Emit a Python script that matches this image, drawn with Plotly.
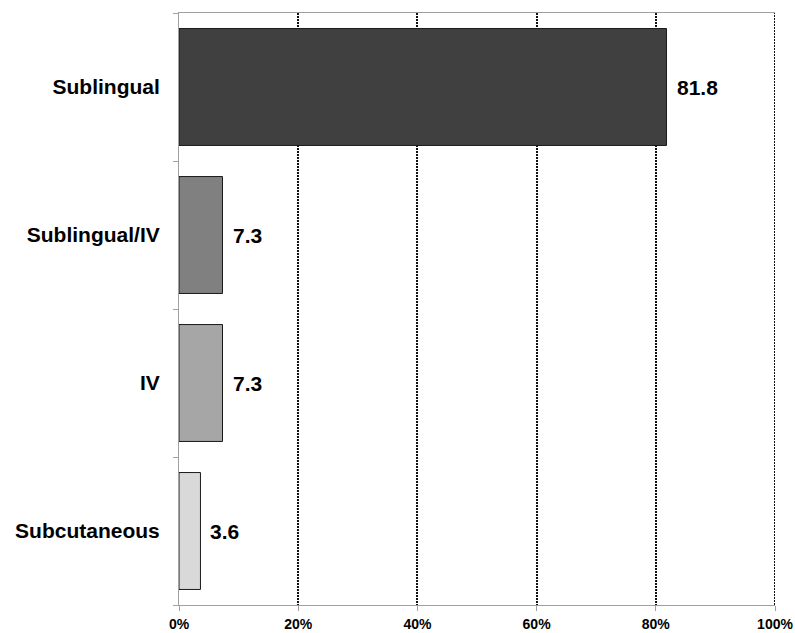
import plotly.graph_objects as go

routes = ["Sublingual", "Sublingual/IV", "IV", "Subcutaneous"]
shares = [81.8, 7.3, 7.3, 3.6]
bar_colors = ["#404040", "#808080", "#a6a6a6", "#d9d9d9"]
x_ticks = [0, 20, 40, 60, 80, 100]

FONT = "Liberation Sans, Arial, sans-serif"
GRID = dict(color="#111111", width=2, dash="2px,1px")

fig = go.Figure(
    go.Bar(
        x=shares,
        y=routes,
        orientation="h",
        marker=dict(color=bar_colors, line=dict(color="#1a1a1a", width=1)),
        hoverinfo="skip",
    )
)

# value labels to the right of each bar
for r, v in zip(routes, shares):
    fig.add_annotation(
        x=v, y=r, text=f"<b>{v}</b>", showarrow=False,
        xanchor="left", yanchor="middle", xshift=8,
        font=dict(family=FONT, size=21, color="black"),
    )

# dotted gridline on the right-hand edge (100%)
fig.add_shape(
    type="line", xref="x", yref="paper",
    x0=x_ticks[-1], x1=x_ticks[-1], y0=0, y1=1,
    line=GRID, layer="below",
)

fig.update_layout(
    width=795, height=633,
    margin=dict(l=179, r=20, t=13, b=28),
    paper_bgcolor="white", plot_bgcolor="white",
    bargap=0.21,
    showlegend=False,
    font=dict(family=FONT, color="black"),
)

fig.update_xaxes(
    range=[0, 100],
    tickvals=x_ticks,
    ticktext=[f"<b>{t}%</b>" for t in x_ticks],
    tickfont=dict(family=FONT, size=14, color="black"),
    showgrid=True, gridcolor=GRID["color"], gridwidth=GRID["width"],
    griddash=GRID["dash"],
    zeroline=False,
    showline=True, linecolor="#a0a0a0", linewidth=1, mirror=True,
    ticks="outside", ticklen=5, tickcolor="#a0a0a0",
    ticklabelstandoff=1,
    automargin=False,
)

fig.update_yaxes(
    autorange="reversed",
    tickvals=routes,
    ticktext=[f"<b>{r}</b>" for r in routes],
    tickfont=dict(family=FONT, size=21, color="black"),
    showgrid=False, zeroline=False,
    showline=True, linecolor="#a0a0a0", linewidth=1,
    ticks="outside", ticklen=5, tickcolor="#a0a0a0",
    tickson="boundaries",
    ticklabelstandoff=14,
    automargin=False,
)

fig.write_html("out.html")
